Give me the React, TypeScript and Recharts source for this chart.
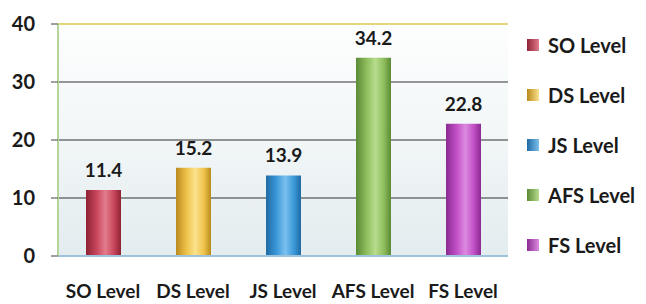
import React from "react";
import {
  BarChart,
  Bar,
  XAxis,
  YAxis,
  CartesianGrid,
  Cell,
  LabelList,
  Legend,
  ReferenceLine,
} from "recharts";

const categories = ["SO Level", "DS Level", "JS Level", "AFS Level", "FS Level"];
const values = [11.4, 15.2, 13.9, 34.2, 22.8];
const yTicks = [0, 10, 20, 30, 40];

const colors = ["#c8455a", "#efc24a", "#3a98d8", "#8dbd5c", "#c24fc6"];
const lightColors = ["#e27c8c", "#fbe28e", "#7cc0ee", "#b8dc8e", "#dc8ae0"];
const darkColors = ["#8e2234", "#b98a1c", "#1f6aa4", "#5a8a34", "#8a2a90"];

const data = categories.map((name, i) => ({ name, value: values[i] }));

const FONT = "Lato, 'Open Sans', sans-serif";

const LegendContent = () => (
  <div style={{ fontFamily: FONT }}>
    {categories.map((c, i) => (
      <div
        key={c}
        style={{
          display: "flex",
          alignItems: "center",
          height: 50,
          fontSize: 20,
          fontWeight: 700,
          color: "#1a1a1a",
        }}
      >
        <div
          style={{
            width: 12,
            height: 12,
            background: `linear-gradient(90deg, ${darkColors[i]}, ${lightColors[i]})`,
            marginRight: 9,
          }}
        />
        <span>{c}</span>
      </div>
    ))}
  </div>
);

export default function App() {
  return (
    <div style={{ position: "absolute", left: 0, top: 0, width: 646, height: 304, background: "#fff" }}>
      <BarChart
        width={646}
        height={304}
        data={data}
        margin={{ top: 24, right: 138, bottom: 0, left: 0 }}
        barSize={35}
      >
        <defs>
          <linearGradient id="plotBg" x1="0" y1="0" x2="0" y2="1">
            <stop offset="0%" stopColor="#fdfefe" />
            <stop offset="45%" stopColor="#f3f7f8" />
            <stop offset="100%" stopColor="#e3ecef" />
          </linearGradient>
          {colors.map((c, i) => (
            <linearGradient key={c} id={`bar${i}`} x1="0" y1="0" x2="1" y2="0">
              <stop offset="0%" stopColor={darkColors[i]} />
              <stop offset="30%" stopColor={c} />
              <stop offset="55%" stopColor={lightColors[i]} />
              <stop offset="80%" stopColor={c} />
              <stop offset="100%" stopColor={darkColors[i]} />
            </linearGradient>
          ))}
        </defs>
        <CartesianGrid
          vertical={false}
          stroke="#333"
          strokeWidth={1.2}
          fill="url(#plotBg)"
        />
        <XAxis
          dataKey="name"
          axisLine={{ stroke: "#9cc3dc", strokeWidth: 2 }}
          tickLine={false}
          tickMargin={23}
          interval={0}
          height={48}
          tick={{ fontSize: 19, fontWeight: 700, fill: "#1a1a1a", fontFamily: FONT }}
        />
        <YAxis
          domain={[0, 40]}
          ticks={yTicks}
          width={58}
          axisLine={{ stroke: "#b5d69a", strokeWidth: 2 }}
          tickLine={{ stroke: "#444" }}
          tickSize={7}
          tickMargin={16}
          tick={{ fontSize: 20, fontWeight: 700, fill: "#1a1a1a", fontFamily: FONT }}
        />
        <YAxis
          yAxisId="right"
          orientation="right"
          domain={[0, 40]}
          width={0}
          axisLine={{ stroke: "#c8d0d4", strokeWidth: 1 }}
          tick={false}
          tickLine={false}
        />
        <ReferenceLine y={40} stroke="#e4d77a" strokeWidth={2} />
        <ReferenceLine y={0} stroke="#e8dc84" strokeWidth={2} />
        <Bar dataKey="value" isAnimationActive={false}>
          {data.map((d, i) => (
            <Cell key={d.name} fill={`url(#bar${i})`} />
          ))}
          <LabelList
            dataKey="value"
            position="top"
            offset={13}
            style={{ fontSize: 19, fontWeight: 700, fill: "#1a1a1a", fontFamily: FONT }}
          />
        </Bar>
        <Legend
          layout="horizontal"
          verticalAlign="middle"
          content={<LegendContent />}
          wrapperStyle={{ left: 527, top: 20, width: 119, right: "auto", bottom: "auto" }}
        />
      </BarChart>
    </div>
  );
}
